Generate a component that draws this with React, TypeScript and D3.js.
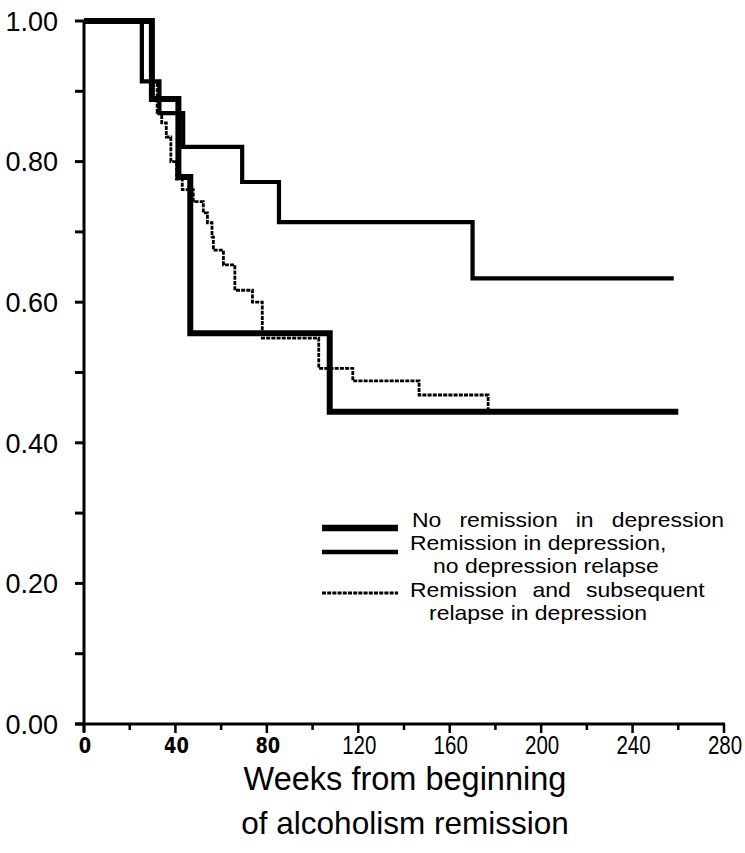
import React, { useEffect, useRef } from 'react';
import * as d3 from 'd3';

// weeks at which each curve steps, and the survival value after the step
const noRemissionWeeks = [0, 29.7, 41.3, 46.5, 107.5, 260];
const noRemissionValues = [1.0, 0.889, 0.778, 0.556, 0.444, 0.444];

const remissionWeeks = [0, 25.3, 33.0, 43.4, 69.2, 85.3, 170.0, 258];
const remissionValues = [1.0, 0.914, 0.869, 0.821, 0.771, 0.714, 0.634, 0.634];

const relapseWeeks = [0, 25.5, 32, 34, 36, 38, 40.5, 43, 47.8, 52.2, 54, 56, 56.6, 61, 66, 73.7, 78, 102.7, 117.6, 146.6, 176.8, 177.2];
const relapseValues = [1.0, 0.914, 0.87, 0.855, 0.835, 0.8, 0.775, 0.76, 0.743, 0.727, 0.713, 0.693, 0.674, 0.653, 0.617, 0.6, 0.549, 0.506, 0.488, 0.468, 0.445, 0.445];

const yTickLabels = ['0.00', '0.20', '0.40', '0.60', '0.80', '1.00'];
const xTickLabels = ['0', '40', '80', '120', '160', '200', '240', '280'];
const boldXLabels = ['0', '40', '80'];

const legendLabels = [
  ['No remission in depression'],
  ['Remission in depression,', 'no depression relapse'],
  ['Remission and subsequent', 'relapse in depression'],
];

const W = 745;
const H = 853;
const FONT = 'Liberation Sans, Arial, sans-serif';

export default function App() {
  const ref = useRef<SVGSVGElement>(null);

  useEffect(() => {
    const svg = d3.select(ref.current);
    svg.selectAll('*').remove();

    const x = d3.scaleLinear().domain([0, 280]).range([84, 724]);
    const y = d3.scaleLinear().domain([0, 1]).range([724, 21]);

    const step = d3
      .line<[number, number]>()
      .x(d => x(d[0]))
      .y(d => y(d[1]))
      .curve(d3.curveStepAfter);

    const series = [
      { weeks: relapseWeeks, values: relapseValues, width: 2.8, dash: '4,1.2' },
      { weeks: remissionWeeks, values: remissionValues, width: 4.2, dash: null },
      { weeks: noRemissionWeeks, values: noRemissionValues, width: 6, dash: null },
    ];

    series.forEach(s => {
      const pts = s.weeks.map((w, i) => [w, s.values[i]] as [number, number]);
      svg
        .append('path')
        .attr('d', step(pts))
        .attr('fill', 'none')
        .attr('stroke', '#000')
        .attr('stroke-width', s.width)
        .attr('stroke-dasharray', s.dash)
        .attr('stroke-linejoin', 'miter');
    });

    // y axis
    svg
      .append('line')
      .attr('x1', x(0)).attr('x2', x(0))
      .attr('y1', y(1) - 1).attr('y2', y(0) + 8)
      .attr('stroke', '#000').attr('stroke-width', 3);
    d3.range(0, 1.0001, 0.1).forEach(v => {
      svg
        .append('line')
        .attr('x1', x(0) - 9).attr('x2', x(0))
        .attr('y1', y(v)).attr('y2', y(v))
        .attr('stroke', '#000').attr('stroke-width', 3);
    });
    yTickLabels.forEach(t => {
      svg
        .append('text')
        .attr('x', 58)
        .attr('y', y(+t))
        .attr('dy', '0.36em')
        .attr('text-anchor', 'end')
        .attr('font-family', FONT)
        .attr('font-size', 27)
        .text(t);
    });

    // x axis
    svg
      .append('line')
      .attr('x1', x(0) - 9).attr('x2', x(280) + 1)
      .attr('y1', y(0)).attr('y2', y(0))
      .attr('stroke', '#000').attr('stroke-width', 3);
    d3.range(0, 281, 20).forEach(w => {
      svg
        .append('line')
        .attr('x1', x(w)).attr('x2', x(w))
        .attr('y1', y(0)).attr('y2', y(0) + (w % 40 === 0 ? 9 : 6))
        .attr('stroke', '#000').attr('stroke-width', 2.5);
    });
    xTickLabels.forEach(t => {
      const bold = boldXLabels.includes(t);
      const cx = x(+t) + 1;
      svg
        .append('text')
        .attr('x', cx)
        .attr('y', 745)
        .attr('dy', '0.36em')
        .attr('text-anchor', 'middle')
        .attr('font-family', bold ? 'DejaVu Sans Condensed, DejaVu Sans, sans-serif' : FONT)
        .attr('font-weight', bold ? 'bold' : 'normal')
        .attr('font-size', bold ? 22 : 25)
        .attr('transform', bold
          ? `translate(${cx},0) scale(0.9,1) translate(${-cx},0)`
          : `translate(${cx},0) scale(0.82,1) translate(${-cx},0)`)
        .text(t);
    });

    svg
      .append('text')
      .attr('x', 405).attr('y', 790)
      .attr('text-anchor', 'middle')
      .attr('font-family', FONT)
      .attr('font-size', 32.5)
      .text('Weeks from beginning');
    svg
      .append('text')
      .attr('x', 405).attr('y', 834)
      .attr('text-anchor', 'middle')
      .attr('font-family', FONT)
      .attr('font-size', 31.5)
      .text('of alcoholism remission');

    // legend
    const legendY = [528, 552, 593];
    const legendW = [6.5, 4.5, 2.8];
    const legendDash = [null, null, '4,1.2'];
    legendY.forEach((ly, i) => {
      svg
        .append('line')
        .attr('x1', 322).attr('x2', 398)
        .attr('y1', ly).attr('y2', ly)
        .attr('stroke', '#000')
        .attr('stroke-width', legendW[i])
        .attr('stroke-dasharray', legendDash[i]);
    });
    const textPos = [
      [[412, 527]],
      [[410, 550], [433, 573]],
      [[410, 597], [429, 620]],
    ];
    const wordSpacing = [[10.5], [0, 0], [8, 0]];
    const sx = 1.12;
    legendLabels.forEach((lines, i) => {
      lines.forEach((line, j) => {
        const [tx, ty] = textPos[i][j];
        svg
          .append('text')
          .attr('x', 0)
          .attr('y', 0)
          .attr('transform', `translate(${tx},${ty}) scale(${sx},1)`)
          .attr('font-family', FONT)
          .attr('font-size', 20.5)
          .attr('word-spacing', wordSpacing[i][j])
          .text(line);
      });
    });
  }, []);

  return <svg ref={ref} width={W} height={H} style={{ display: 'block', position: 'absolute', left: 0, top: 0, background: '#fff' }} />;
}
